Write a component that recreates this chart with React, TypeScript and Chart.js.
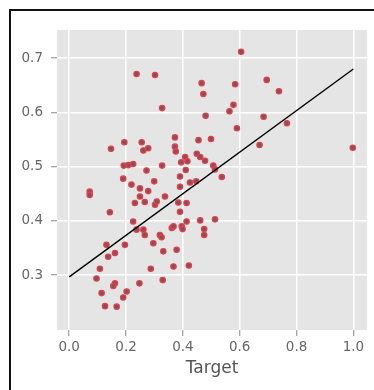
import React, { useEffect, useRef } from "react";
import { Chart, registerables } from "chart.js";

Chart.register(...registerables);

// Scatter points (Target on x, predicted on y)
const targetValues = [
  0.605, 0.237, 0.302, 0.327, 0.466, 0.472, 0.480, 0.584, 0.578, 0.564,
  0.590, 0.695, 0.738, 0.684, 0.766, 0.670, 0.998, 0.499, 0.455, 0.372,
  0.372, 0.375, 0.194, 0.147, 0.255, 0.261, 0.278, 0.449, 0.461, 0.478,
  0.408, 0.416, 0.394, 0.410, 0.507, 0.513, 0.537, 0.327, 0.192, 0.208,
  0.225, 0.190, 0.219, 0.272, 0.249, 0.278, 0.299, 0.390, 0.390, 0.425,
  0.447, 0.072, 0.072, 0.249, 0.231, 0.266, 0.302, 0.308, 0.337, 0.384,
  0.390, 0.413, 0.143, 0.225, 0.237, 0.261, 0.266, 0.319, 0.325, 0.296,
  0.361, 0.367, 0.396, 0.399, 0.413, 0.461, 0.475, 0.475, 0.513, 0.331,
  0.378, 0.367, 0.421, 0.287, 0.329, 0.131, 0.137, 0.161, 0.196, 0.108,
  0.096, 0.161, 0.155, 0.247, 0.114, 0.202, 0.190, 0.126, 0.167,
];
const predictedValues = [
  0.712, 0.671, 0.669, 0.608, 0.654, 0.634, 0.594, 0.652, 0.614, 0.602,
  0.571, 0.660, 0.639, 0.592, 0.580, 0.540, 0.535, 0.551, 0.549, 0.554,
  0.537, 0.528, 0.545, 0.533, 0.545, 0.530, 0.534, 0.524, 0.518, 0.511,
  0.518, 0.510, 0.508, 0.494, 0.502, 0.495, 0.481, 0.502, 0.502, 0.503,
  0.505, 0.478, 0.467, 0.493, 0.460, 0.455, 0.473, 0.482, 0.463, 0.471,
  0.473, 0.454, 0.448, 0.445, 0.433, 0.435, 0.430, 0.436, 0.445, 0.434,
  0.417, 0.433, 0.416, 0.399, 0.384, 0.384, 0.374, 0.374, 0.370, 0.359,
  0.387, 0.390, 0.390, 0.385, 0.399, 0.401, 0.385, 0.374, 0.403, 0.344,
  0.347, 0.316, 0.318, 0.312, 0.291, 0.356, 0.334, 0.341, 0.356, 0.312,
  0.294, 0.285, 0.280, 0.285, 0.267, 0.270, 0.259, 0.243, 0.242,
];

// Fit line endpoints
const fitX = [0.0, 1.0];
const fitY = [0.297, 0.68];

const xTickValues = [0.0, 0.2, 0.4, 0.6, 0.8, 1.0];
const yTickValues = [0.3, 0.4, 0.5, 0.6, 0.7];
const xAxisTitle = "Target";

const plotBackground = {
  id: "plotBackground",
  beforeDraw(chart: any) {
    const { ctx, chartArea } = chart;
    if (!chartArea) return;
    ctx.save();
    ctx.fillStyle = "#E5E5E5";
    ctx.fillRect(chartArea.left, chartArea.top, chartArea.right - chartArea.left, chartArea.bottom - chartArea.top);
    ctx.restore();
  },
};

export default function App() {
  const canvasRef = useRef<HTMLCanvasElement | null>(null);

  useEffect(() => {
    if (!canvasRef.current) return;
    const points = targetValues.map((x, i) => ({ x, y: predictedValues[i] }));
    const line = fitX.map((x, i) => ({ x, y: fitY[i] }));
    const font = { family: "DejaVu Sans", size: 13.5 };
    const chart = new Chart(canvasRef.current, {
      type: "scatter",
      data: {
        datasets: [
          {
            type: "line",
            data: line,
            borderColor: "#000000",
            borderWidth: 1.4,
            pointRadius: 0,
            fill: false,
          } as any,
          {
            type: "scatter",
            data: points,
            backgroundColor: "#8a4f5c",
            borderColor: "#e2424a",
            borderWidth: 1.2,
            pointRadius: 2.7,
          },
        ],
      },
      plugins: [plotBackground],
      options: {
        animation: false,
        responsive: false,
        maintainAspectRatio: false,
        layout: { padding: { left: 0, top: 30, right: 7, bottom: 0 } },
        plugins: { legend: { display: false }, tooltip: { enabled: false } },
        scales: {
          x: {
            type: "linear",
            min: -0.043,
            max: 1.048,
            afterBuildTicks: (scale: any) => {
              scale.ticks = xTickValues.map((v) => ({ value: v }));
            },
            afterFit: (scale: any) => {
              scale.height = 60;
            },
            border: { display: false },
            grid: {
              color: "#FFFFFF",
              lineWidth: 1.5,
              drawTicks: true,
              tickLength: 6,
              tickColor: "#888888",
              tickWidth: 1,
            },
            ticks: {
              color: "#666666",
              font,
              padding: 3,
              maxRotation: 0,
              autoSkip: false,
              callback: (v: any) => Number(v).toFixed(1),
            },
            title: {
              display: true,
              text: xAxisTitle,
              color: "#555555",
              font: { family: "DejaVu Sans", size: 17 },
              padding: { top: 0, bottom: 11 },
            },
          },
          y: {
            type: "linear",
            min: 0.199,
            max: 0.752,
            afterBuildTicks: (scale: any) => {
              scale.ticks = yTickValues.map((v) => ({ value: v }));
            },
            afterFit: (scale: any) => {
              scale.width = 57;
            },
            border: { display: false },
            grid: {
              color: "#FFFFFF",
              lineWidth: 1.5,
              drawTicks: true,
              tickLength: 6,
              tickColor: "#888888",
              tickWidth: 1,
            },
            ticks: {
              color: "#666666",
              font,
              padding: 8,
              autoSkip: false,
              callback: (v: any) => Number(v).toFixed(1),
            },
          },
        },
      },
    } as any);
    return () => chart.destroy();
  }, []);

  return (
    <div
      style={{
        position: "fixed",
        left: 0,
        top: 0,
        width: 374,
        height: 390,
        background: "#FFFFFF",
        overflow: "hidden",
      }}
    >
      <canvas ref={canvasRef} width={374} height={390} style={{ position: "absolute", left: 0, top: 0, width: 374, height: 390 }} />
      <div
        style={{
          position: "absolute",
          left: 9,
          top: 9,
          width: 420,
          height: 420,
          border: "2px solid #111111",
          boxSizing: "border-box",
        }}
      />
    </div>
  );
}
